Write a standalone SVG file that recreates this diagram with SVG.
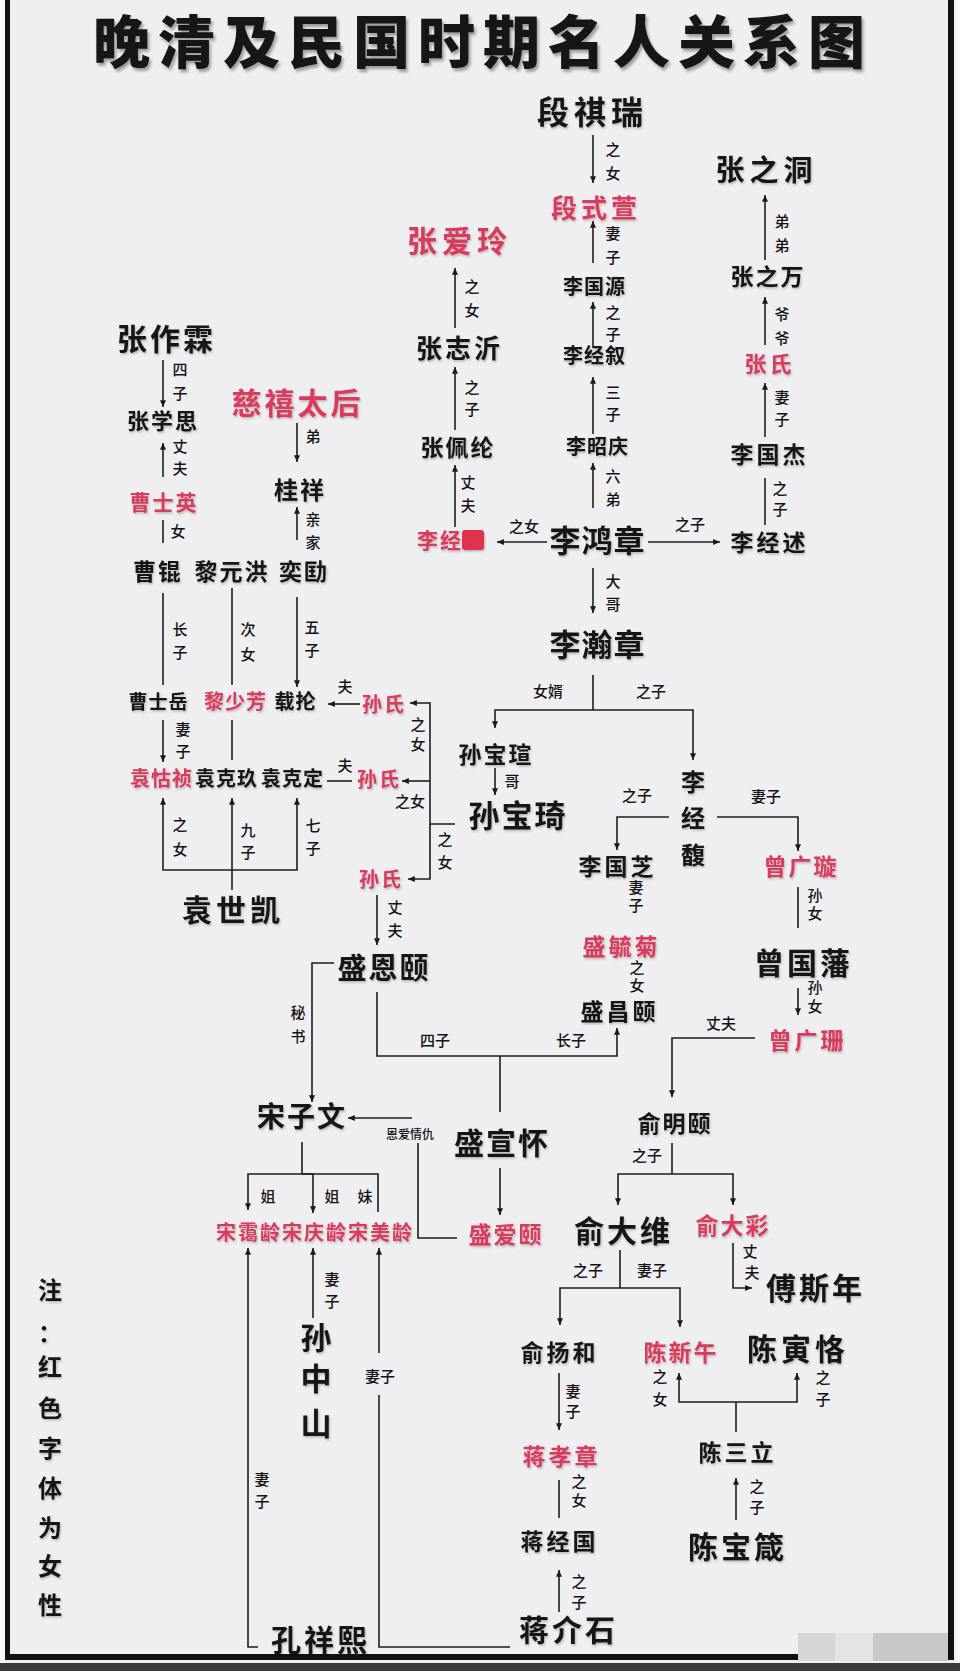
<svg xmlns="http://www.w3.org/2000/svg" width="960" height="1671" viewBox="0 0 960 1671">
<defs>
<marker id="a" viewBox="0 0 8 7" refX="8" refY="3.5" markerWidth="7" markerHeight="6" markerUnits="userSpaceOnUse" orient="auto">
<path d="M0,0 L8,3.5 L0,7 z" fill="#1a1a1a"/>
</marker>
<filter id="sh" x="-5%" y="-20%" width="110%" height="150%">
<feDropShadow dx="2" dy="3" stdDeviation="1.6" flood-color="#000" flood-opacity="0.35"/>
</filter>
<filter id="sh2" x="-5%" y="-20%" width="115%" height="150%">
<feDropShadow dx="1" dy="1.5" stdDeviation="1" flood-color="#000" flood-opacity="0.25"/>
</filter>
</defs>
<style>
text{font-family:"Noto Sans CJK SC","Noto Sans CJK JP",sans-serif;fill:#141414;font-weight:600}
.title{font-size:57px;font-weight:900;letter-spacing:8px;text-anchor:middle}
.n{text-anchor:middle}
.r{fill:#d93a5c}
.lb{font-size:15px;text-anchor:middle;font-weight:500}
.sm{font-size:12px;text-anchor:middle;font-weight:500}
.c{fill:none;stroke:#1e1e1e;stroke-width:1.6}
.ca{fill:none;stroke:#1e1e1e;stroke-width:1.6;marker-end:url(#a)}
</style>
<rect x="0" y="0" width="960" height="1671" fill="#efeff1"/>
<rect x="0" y="0" width="5" height="1671" fill="#f8f8f8"/>
<rect x="956" y="0" width="4" height="1671" fill="#f8f8f8"/>
<rect x="5" y="0" width="5" height="1660" fill="#111"/>
<rect x="948" y="0" width="6" height="1660" fill="#111"/>
<rect x="5" y="1654" width="949" height="6" fill="#111"/>
<rect x="0" y="1663" width="960" height="8" fill="#3a3a3a"/>
<g id="watermark">
<rect x="798" y="1633" width="37" height="28" fill="#d6d6d8"/>
<rect x="835" y="1633" width="38" height="28" fill="#e4e4e6"/>
<rect x="873" y="1633" width="75" height="28" fill="#c8c8ca"/>
</g>

<text class="title" x="483" y="63" filter="url(#sh)">晚清及民国时期名人关系图</text>

<g id="connectors">
<path class="ca" d="M593,135 V183"/>
<path class="ca" d="M593,263 V221"/>
<path class="ca" d="M593,347 V302"/>
<path class="ca" d="M593,434 V377"/>
<path class="ca" d="M593,508 V463"/>
<path class="ca" d="M547,542 H497"/>
<path class="ca" d="M648,542 H720"/>
<path class="ca" d="M593,568 V613"/>
<path class="ca" d="M455,527 V465"/>
<path class="ca" d="M455,430 V367"/>
<path class="ca" d="M455,328 V268"/>
<path class="ca" d="M765,260 V195"/>
<path class="ca" d="M765,345 V297"/>
<path class="ca" d="M765,437 V383"/>
<path class="c" d="M765,478 V525"/>
<path class="c" d="M593,675 V710"/>
<path class="ca" d="M593,710 H495 V728"/>
<path class="ca" d="M593,710 H693 V760"/>
<path class="ca" d="M495,768 V795"/>
<path class="ca" d="M455,824 H430 V703 H410"/>
<path class="ca" d="M430,781 H402"/>
<path class="ca" d="M430,824 V879 H408"/>
<path class="ca" d="M360,704 H328"/>
<path class="c" d="M352,781 H327"/>
<path class="ca" d="M377,895 V945"/>
<path class="ca" d="M334,963 H312 V1102"/>
<path class="c" d="M500,1112 V1056"/>
<path class="ca" d="M377,992 V1056 H617 V1028"/>
<path class="ca" d="M500,1168 V1215"/>
<path class="c" d="M457,1238 H418 V1143"/>
<path class="ca" d="M412,1118 H348"/>
<path class="ca" d="M669,817 H617 V850"/>
<path class="ca" d="M717,817 H798 V851"/>
<path class="c" d="M798,928 V887"/>
<path class="ca" d="M798,988 V1015"/>
<path class="ca" d="M755,1038 H672 V1097"/>
<path class="c" d="M672,1143 V1174"/>
<path class="ca" d="M672,1174 H618 V1205"/>
<path class="ca" d="M672,1174 H733 V1205"/>
<path class="ca" d="M733,1243 V1288 H752"/>
<path class="c" d="M620,1250 V1288"/>
<path class="ca" d="M620,1288 H560 V1325"/>
<path class="ca" d="M620,1288 H680 V1327"/>
<path class="ca" d="M559,1373 V1430"/>
<path class="c" d="M559,1518 V1480"/>
<path class="ca" d="M559,1612 V1570"/>
<path class="c" d="M736,1432 V1402"/>
<path class="ca" d="M736,1402 H679 V1373"/>
<path class="ca" d="M736,1402 H797 V1373"/>
<path class="ca" d="M736,1520 V1478"/>
<path class="ca" d="M163,360 V407"/>
<path class="ca" d="M163,477 V443"/>
<path class="c" d="M163,543 V520"/>
<path class="ca" d="M297,423 V462"/>
<path class="ca" d="M297,540 V507"/>
<path class="c" d="M163,593 V685"/>
<path class="c" d="M232,588 V685"/>
<path class="ca" d="M297,597 V687"/>
<path class="ca" d="M163,720 V762"/>
<path class="c" d="M232,720 V760"/>
<path class="ca" d="M232,890 V798"/>
<path class="ca" d="M232,870 H163 V798"/>
<path class="ca" d="M232,870 H297 V798"/>
<path class="c" d="M302,1142 V1174"/>
<path class="ca" d="M302,1174 H248 V1210"/>
<path class="ca" d="M302,1174 H313 V1213"/>
<path class="c" d="M302,1174 H378 V1212"/>
<path class="ca" d="M258,1647 H248 V1248"/>
<path class="ca" d="M313,1318 V1248"/>
<path class="c" d="M510,1647 H379 V1395"/>
<path class="ca" d="M379,1353 V1248"/>
</g>

<g id="labels">
<text class="lb" x="613" y="155">之</text><text class="lb" x="613" y="179">女</text>
<text class="lb" x="613" y="239">妻</text><text class="lb" x="613" y="263">子</text>
<text class="lb" x="613" y="318">之</text><text class="lb" x="613" y="340">子</text>
<text class="lb" x="613" y="398">三</text><text class="lb" x="613" y="420">子</text>
<text class="lb" x="613" y="482">六</text><text class="lb" x="613" y="505">弟</text>
<text class="lb" x="613" y="587">大</text><text class="lb" x="613" y="610">哥</text>
<text class="lb" x="472" y="292">之</text><text class="lb" x="472" y="316">女</text>
<text class="lb" x="472" y="393">之</text><text class="lb" x="472" y="415">子</text>
<text class="lb" x="468" y="488">丈</text><text class="lb" x="468" y="511">夫</text>
<text class="lb" x="782" y="227">弟</text><text class="lb" x="782" y="251">弟</text>
<text class="lb" x="782" y="320">爷</text><text class="lb" x="782" y="344">爷</text>
<text class="lb" x="782" y="403">妻</text><text class="lb" x="782" y="425">子</text>
<text class="lb" x="780" y="494">之</text><text class="lb" x="780" y="515">子</text>
<text class="lb" x="524" y="532">之女</text>
<text class="lb" x="690" y="530">之子</text>
<text class="lb" x="548" y="697">女婿</text>
<text class="lb" x="651" y="697">之子</text>
<text class="lb" x="512" y="787">哥</text>
<text class="lb" x="345" y="692">夫</text>
<text class="lb" x="345" y="771">夫</text>
<text class="lb" x="418" y="730">之</text><text class="lb" x="418" y="750">女</text>
<text class="lb" x="410" y="807">之女</text>
<text class="lb" x="445" y="845">之</text><text class="lb" x="445" y="868">女</text>
<text class="lb" x="395" y="913">丈</text><text class="lb" x="395" y="936">夫</text>
<text class="lb" x="298" y="1018">秘</text><text class="lb" x="298" y="1042">书</text>
<text class="lb" x="637" y="801">之子</text>
<text class="lb" x="766" y="802">妻子</text>
<text class="lb" x="636" y="893">妻</text><text class="lb" x="636" y="911">子</text>
<text class="lb" x="637" y="973">之</text><text class="lb" x="637" y="991">女</text>
<text class="lb" x="815" y="901">孙</text><text class="lb" x="815" y="919">女</text>
<text class="lb" x="815" y="993">孙</text><text class="lb" x="815" y="1012">女</text>
<text class="lb" x="435" y="1046">四子</text>
<text class="lb" x="571" y="1046">长子</text>
<text class="lb" x="721" y="1029">丈夫</text>
<text class="lb" x="647" y="1161">之子</text>
<text class="sm" x="410" y="1139">恩爱情仇</text>
<text class="lb" x="268" y="1202">姐</text>
<text class="lb" x="332" y="1202">姐</text>
<text class="lb" x="365" y="1202">妹</text>
<text class="lb" x="750" y="1257">丈</text><text class="lb" x="752" y="1278">夫</text>
<text class="lb" x="588" y="1276">之子</text>
<text class="lb" x="652" y="1276">妻子</text>
<text class="lb" x="573" y="1397">妻</text><text class="lb" x="573" y="1417">子</text>
<text class="lb" x="579" y="1487">之</text><text class="lb" x="579" y="1506">女</text>
<text class="lb" x="579" y="1587">之</text><text class="lb" x="579" y="1608">子</text>
<text class="lb" x="660" y="1382">之</text><text class="lb" x="660" y="1405">女</text>
<text class="lb" x="823" y="1383">之</text><text class="lb" x="823" y="1405">子</text>
<text class="lb" x="757" y="1492">之</text><text class="lb" x="757" y="1513">子</text>
<text class="lb" x="332" y="1285">妻</text><text class="lb" x="332" y="1307">子</text>
<text class="lb" x="380" y="1382">妻子</text>
<text class="lb" x="262" y="1485">妻</text><text class="lb" x="262" y="1507">子</text>
<text class="lb" x="180" y="375">四</text><text class="lb" x="180" y="399">子</text>
<text class="lb" x="180" y="452">丈</text><text class="lb" x="180" y="474">夫</text>
<text class="lb" x="178" y="537">女</text>
<text class="lb" x="313" y="442">弟</text>
<text class="lb" x="313" y="525">亲</text><text class="lb" x="313" y="548">家</text>
<text class="lb" x="180" y="635">长</text><text class="lb" x="180" y="658">子</text>
<text class="lb" x="248" y="635">次</text><text class="lb" x="248" y="660">女</text>
<text class="lb" x="312" y="633">五</text><text class="lb" x="312" y="656">子</text>
<text class="lb" x="183" y="735">妻</text><text class="lb" x="183" y="757">子</text>
<text class="lb" x="180" y="830">之</text><text class="lb" x="180" y="855">女</text>
<text class="lb" x="248" y="836">九</text><text class="lb" x="248" y="858">子</text>
<text class="lb" x="313" y="831">七</text><text class="lb" x="313" y="854">子</text>
</g>

<g filter="url(#sh2)">
<g id="n-duanqirui"><text class="n" x="592.5" y="124" style="font-size:32px;letter-spacing:5px">段祺瑞</text></g>
<g id="n-duanshixuan"><text class="n r" x="596" y="218" style="font-size:26px;letter-spacing:4px">段式萱</text></g>
<g id="n-liguoyuan"><text class="n" x="594.5" y="294" style="font-size:20px;letter-spacing:1px">李国源</text></g>
<g id="n-lijingxu"><text class="n" x="594.5" y="363" style="font-size:20px;letter-spacing:1px">李经叙</text></g>
<g id="n-lizhaoqing"><text class="n" x="597.5" y="454" style="font-size:20px;letter-spacing:1px">李昭庆</text></g>
<g id="n-lihongzhang"><text class="n" x="597.5" y="552" style="font-size:31px;letter-spacing:1px">李鸿章</text></g>
<g id="n-lihanzhang"><text class="n" x="597.5" y="656" style="font-size:31px;letter-spacing:1px">李瀚章</text></g>
<g id="n-lijingshu-f"><text class="r" x="417" y="548" style="font-size:21px;letter-spacing:2px">李经</text><rect x="462" y="530" width="22" height="20" rx="3" fill="#e0304f"/></g>
<g id="n-zhangpeilun"><text class="n" x="458" y="455.5" style="font-size:23px;letter-spacing:2px">张佩纶</text></g>
<g id="n-zhangzhiyi"><text class="n" x="459.5" y="357.6" style="font-size:26px;letter-spacing:3px">张志沂</text></g>
<g id="n-zhangailing"><text class="n r" x="459.5" y="252" style="font-size:30px;letter-spacing:5px">张爱玲</text></g>
<g id="n-zhangzhidong"><text class="n" x="766.5" y="180.7" style="font-size:29px;letter-spacing:5px">张之洞</text></g>
<g id="n-zhangzhiwan"><text class="n" x="768" y="284.5" style="font-size:23px;letter-spacing:2px">张之万</text></g>
<g id="n-zhangshi"><text class="n r" x="769.5" y="372" style="font-size:22px;letter-spacing:3px">张氏</text></g>
<g id="n-liguojie"><text class="n" x="769.5" y="462.5" style="font-size:23px;letter-spacing:3px">李国杰</text></g>
<g id="n-lijingshu"><text class="n" x="769.5" y="550.5" style="font-size:23px;letter-spacing:3px">李经述</text></g>
<g id="n-sunbaoxuan"><text class="n" x="496" y="762.5" style="font-size:23px;letter-spacing:2px">孙宝瑄</text></g>
<g id="n-sunbaoqi"><text class="n" x="518" y="826.5" style="font-size:31px;letter-spacing:2px">孙宝琦</text></g>
<g id="n-sunshi1"><text class="n r" x="384" y="712.4" style="font-size:20px;letter-spacing:2px">孙氏</text></g>
<g id="n-sunshi2"><text class="n r" x="379" y="787.4" style="font-size:20px;letter-spacing:2px">孙氏</text></g>
<g id="n-sunshi3"><text class="n r" x="381" y="887.4" style="font-size:20px;letter-spacing:2px">孙氏</text></g>
<g id="n-shengenyi"><text class="n" x="384" y="978.7" style="font-size:29px;letter-spacing:2px">盛恩颐</text></g>
<g id="n-songziwen"><text class="n" x="302" y="1127.4" style="font-size:28px;letter-spacing:2px">宋子文</text></g>
<g id="n-shengxuanhuai"><text class="n" x="502" y="1154" style="font-size:30px;letter-spacing:2px">盛宣怀</text></g>
<g id="n-shengaiyi"><text class="n r" x="506" y="1242.5" style="font-size:23px;letter-spacing:2px">盛爱颐</text></g>
<g id="n-lijingfu"><text class="n" style="font-size:24px"><tspan x="693" y="791">李</tspan><tspan x="693" y="827">经</tspan><tspan x="693" y="864">馥</tspan></text></g>
<g id="n-liguozhi"><text class="n" x="617.5" y="874.5" style="font-size:23px;letter-spacing:3px">李国芝</text></g>
<g id="n-shengyuju"><text class="n r" x="621.5" y="955" style="font-size:23px;letter-spacing:3px">盛毓菊</text></g>
<g id="n-shengchangyi"><text class="n" x="619.5" y="1020" style="font-size:23px;letter-spacing:3px">盛昌颐</text></g>
<g id="n-zengguangxuan"><text class="n r" x="801" y="874.5" style="font-size:23px;letter-spacing:2px">曾广璇</text></g>
<g id="n-zengguofan"><text class="n" x="803.5" y="973.5" style="font-size:30px;letter-spacing:3px">曾国藩</text></g>
<g id="n-zengguangshan"><text class="n r" x="807.5" y="1048.5" style="font-size:23px;letter-spacing:3px">曾广珊</text></g>
<g id="n-yumingyi"><text class="n" x="675" y="1131.5" style="font-size:23px;letter-spacing:2px">俞明颐</text></g>
<g id="n-yudawei"><text class="n" x="623.5" y="1242" style="font-size:30px;letter-spacing:3px">俞大维</text></g>
<g id="n-yudacai"><text class="n r" x="733" y="1233.5" style="font-size:23px;letter-spacing:2px">俞大彩</text></g>
<g id="n-fusinian"><text class="n" x="815.5" y="1299" style="font-size:30px;letter-spacing:3px">傅斯年</text></g>
<g id="n-yuyanghe"><text class="n" x="559.5" y="1360.5" style="font-size:23px;letter-spacing:3px">俞扬和</text></g>
<g id="n-jiangxiaozhang"><text class="n r" x="561.5" y="1464.5" style="font-size:23px;letter-spacing:3px">蒋孝章</text></g>
<g id="n-jiangjingguo"><text class="n" x="559.5" y="1550" style="font-size:23px;letter-spacing:3px">蒋经国</text></g>
<g id="n-jiangjieshi"><text class="n" x="568.5" y="1641" style="font-size:30px;letter-spacing:3px">蒋介石</text></g>
<g id="n-chenxinwu"><text class="n r" x="681" y="1360.5" style="font-size:23px;letter-spacing:2px">陈新午</text></g>
<g id="n-chenyinke"><text class="n" x="798" y="1360" style="font-size:30px;letter-spacing:4px">陈寅恪</text></g>
<g id="n-chensanli"><text class="n" x="737.5" y="1460.5" style="font-size:23px;letter-spacing:3px">陈三立</text></g>
<g id="n-chenbaozhen"><text class="n" x="737.5" y="1558" style="font-size:30px;letter-spacing:3px">陈宝箴</text></g>
<g id="n-zhangzuolin"><text class="n" x="166.5" y="350" style="font-size:30px;letter-spacing:3px">张作霖</text></g>
<g id="n-zhangxuesi"><text class="n" x="163" y="429" style="font-size:22px;letter-spacing:2px">张学思</text></g>
<g id="n-caoshiying"><text class="n r" x="164" y="510" style="font-size:21px;letter-spacing:2px">曹士英</text></g>
<g id="n-caokun"><text class="n" x="158" y="579.5" style="font-size:23px;letter-spacing:2px">曹锟</text></g>
<g id="n-liyuanhong"><text class="n" x="232" y="579.5" style="font-size:23px;letter-spacing:2px">黎元洪</text></g>
<g id="n-yikuang"><text class="n" x="304" y="579.5" style="font-size:23px;letter-spacing:2px">奕劻</text></g>
<g id="n-caoshiyue"><text class="n" x="158.5" y="709" style="font-size:19px;letter-spacing:1px">曹士岳</text></g>
<g id="n-lishaofang"><text class="n r" x="235.5" y="709.4" style="font-size:20px;letter-spacing:1px">黎少芳</text></g>
<g id="n-zailun"><text class="n" x="295.5" y="709.4" style="font-size:20px;letter-spacing:1px">载抡</text></g>
<g id="n-yuanhuzhen"><text class="n r" x="161.5" y="786.4" style="font-size:20px;letter-spacing:1px">袁怙祯</text></g>
<g id="n-yuankejiu"><text class="n" x="226.5" y="786.4" style="font-size:20px;letter-spacing:1px">袁克玖</text></g>
<g id="n-yuankeding"><text class="n" x="292.5" y="786.4" style="font-size:20px;letter-spacing:1px">袁克定</text></g>
<g id="n-yuanshikai"><text class="n" x="233" y="921" style="font-size:30px;letter-spacing:4px">袁世凯</text></g>
<g id="n-cixi"><text class="n r" x="297.5" y="414" style="font-size:30px;letter-spacing:3px">慈禧太后</text></g>
<g id="n-guixiang"><text class="n" x="300" y="499" style="font-size:24px;letter-spacing:2px">桂祥</text></g>
<g id="n-songailing"><text class="n r" x="249" y="1240.4" style="font-size:20px;letter-spacing:2px">宋霭龄</text></g>
<g id="n-songqingling"><text class="n r" x="315" y="1240.4" style="font-size:20px;letter-spacing:2px">宋庆龄</text></g>
<g id="n-songmeiling"><text class="n r" x="381" y="1240.4" style="font-size:20px;letter-spacing:2px">宋美龄</text></g>
<g id="n-sunzhongshan"><text class="n" style="font-size:31px"><tspan x="316" y="1348.5">孙</tspan><tspan x="316" y="1389.5">中</tspan><tspan x="316" y="1434.5">山</tspan></text></g>
<g id="n-kongxiangxi"><text class="n" x="320.5" y="1651" style="font-size:30px;letter-spacing:3px">孔祥熙</text></g>
<g id="note"><text class="n" style="font-size:24px"><tspan x="50" y="1299">注</tspan><tspan x="50" y="1342">：</tspan><tspan x="50" y="1376">红</tspan><tspan x="50" y="1417">色</tspan><tspan x="50" y="1457">字</tspan><tspan x="50" y="1497">体</tspan><tspan x="50" y="1537">为</tspan><tspan x="50" y="1575">女</tspan><tspan x="50" y="1614">性</tspan></text></g>
</g>
</svg>
